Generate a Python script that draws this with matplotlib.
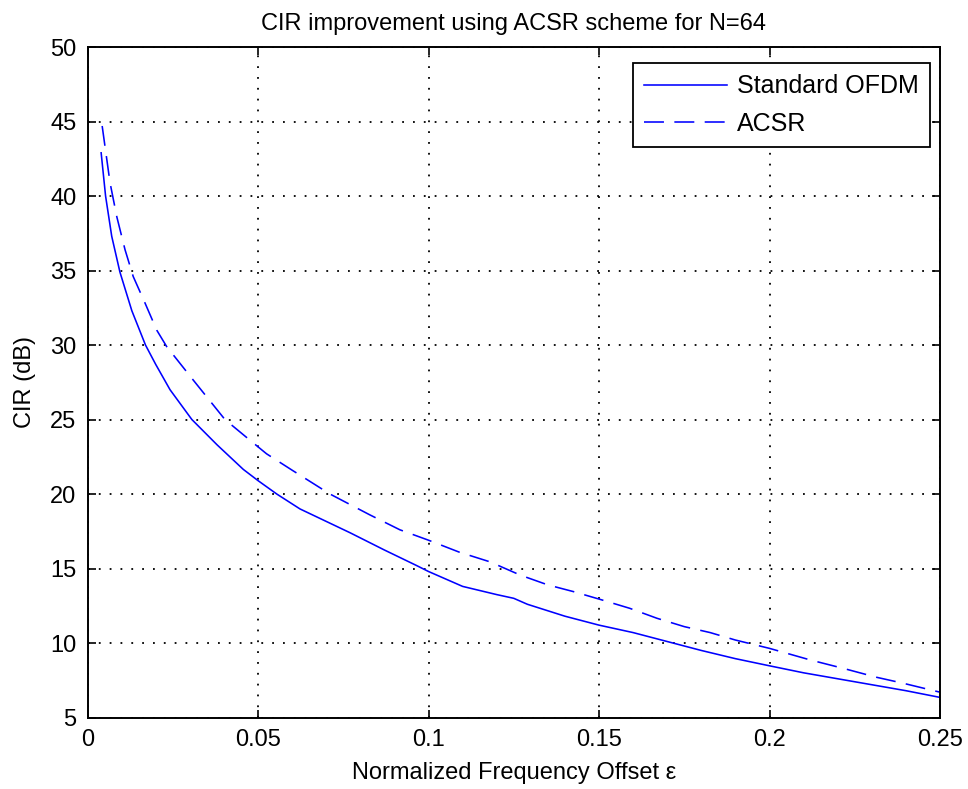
import matplotlib
matplotlib.use("Agg")
import matplotlib.pyplot as plt

# Normalized frequency offset vs. carrier-to-interference ratio
eps_std = [0.004, 0.0053, 0.0071, 0.0095, 0.013, 0.017, 0.020, 0.0242, 0.0306,
           0.038, 0.0457, 0.05, 0.0555, 0.0623, 0.077, 0.087, 0.0965, 0.1,
           0.11, 0.12, 0.125, 0.129, 0.14, 0.15, 0.16, 0.17, 0.18, 0.19,
           0.2, 0.21, 0.22, 0.23, 0.24, 0.25]
cir_std = [42.9, 40.0, 37.3, 34.9, 32.3, 30.0, 28.7, 27.0, 25.0,
           23.3, 21.65, 20.9, 20.0, 19.0, 17.4, 16.25, 15.2, 14.8,
           13.8, 13.25, 13.0, 12.6, 11.8, 11.2, 10.7, 10.1, 9.5, 8.95,
           8.47, 8.0, 7.6, 7.2, 6.8, 6.35]

eps_acsr = [0.0043, 0.0066, 0.0086, 0.011, 0.0134, 0.0169, 0.0203, 0.0232,
            0.031, 0.0403, 0.0477, 0.0525, 0.060, 0.0711, 0.0828, 0.0916,
            0.1, 0.109, 0.118, 0.127, 0.135, 0.1425, 0.15, 0.159, 0.167,
            0.175, 0.1826, 0.19, 0.2, 0.212, 0.2216, 0.2314, 0.2392, 0.248,
            0.25]
cir_acsr = [44.7, 40.9, 38.6, 36.4, 34.6, 32.8, 31.0, 29.9,
            27.65, 25.0, 23.6, 22.7, 21.6, 20.0, 18.6, 17.6,
            16.9, 16.1, 15.45, 14.55, 13.9, 13.45, 12.95, 12.33, 11.66,
            11.1, 10.7, 10.2, 9.64, 8.86, 8.3, 7.7, 7.3, 6.81,
            6.7]

x_ticks = [0, 0.05, 0.1, 0.15, 0.2, 0.25]
x_tick_labels = ["0", "0.05", "0.1", "0.15", "0.2", "0.25"]
y_ticks = [5, 10, 15, 20, 25, 30, 35, 40, 45, 50]

plt.rcParams["font.family"] = ["Liberation Sans", "DejaVu Sans"]
FS = 17

fig = plt.figure(figsize=(9.68, 7.89), dpi=100)
ax = fig.add_axes([0.0904, 0.0906, 0.8807, 0.8498])

ax.plot(eps_std, cir_std, color=(0, 0, 1), lw=1.15, label="Standard OFDM")
ax.plot(eps_acsr, cir_acsr, color=(0, 0, 1), lw=1.15,
        linestyle=(0, (12.5, 6.5)), label="ACSR")

ax.set_xlim(0, 0.25)
ax.set_ylim(5, 50)
ax.set_xticks(x_ticks)
ax.set_xticklabels(x_tick_labels)
ax.set_yticks(y_ticks)

ax.grid(True, color="k", linestyle=(0, (1, 5)), linewidth=1.3)
ax.tick_params(direction="in", length=6, width=1.2, top=True, right=True,
               labelsize=FS, pad=8, colors="k")
for s in ax.spines.values():
    s.set_linewidth(1.4)
    s.set_color("k")

ax.set_title("CIR improvement using ACSR scheme for N=64", fontsize=FS, pad=12)
ax.set_xlabel("Normalized Frequency Offset ε", fontsize=FS, labelpad=8)
ax.set_ylabel("CIR (dB)", fontsize=FS, labelpad=10)

leg = ax.legend(loc="upper right", bbox_to_anchor=(0.988, 0.976),
                borderaxespad=0, fontsize=18, handlelength=3.3,
                labelspacing=0.55, handletextpad=0.4, borderpad=0.45,
                fancybox=False, framealpha=1, edgecolor="k")
leg.get_frame().set_linewidth(1.3)
leg.get_frame().set_boxstyle("square", pad=0.0)
fig.canvas.draw()
# extra room on the left inside the legend frame
frame = leg.get_frame()
frame.set_x(frame.get_x() - 8)
frame.set_width(frame.get_width() + 8)

fig.savefig("out.png", dpi=100)
